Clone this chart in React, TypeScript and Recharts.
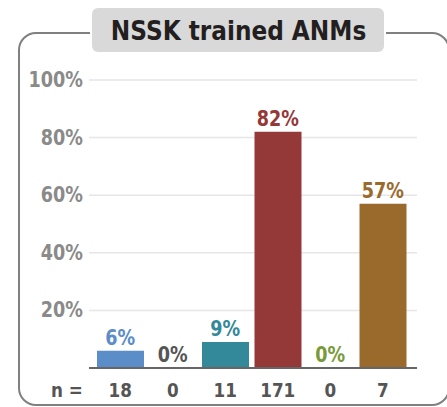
import React from "react";
import { ComposedChart, Bar, Line, XAxis, YAxis, CartesianGrid, Cell, LabelList } from "recharts";

const categories = ["A", "B", "C", "D", "E", "F"];
const values = [6, 0, 9, 82, 0, 57];
const counts = [18, 0, 11, 171, 0, 7];
const barColors = ["#5b8dc9", "#555555", "#338899", "#943838", "#7a9a3a", "#9a6a2c"];
const yTicks = [20, 40, 60, 80, 100];

const FONT = "'DejaVu Sans', 'Liberation Sans', sans-serif";

const data = categories.map((c, i) => ({ name: c, value: values[i], n: counts[i] }));

// narrow text, squeezed horizontally around its anchor
function NarrowText({ x, y, anchor, size, fill, children }: any) {
  return (
    <g transform={`translate(${x} ${y}) scale(0.84 1)`}>
      <text x={0} y={0} textAnchor={anchor} fill={fill} fontSize={size} fontWeight={700} fontFamily={FONT}>
        {children}
      </text>
    </g>
  );
}

function YTick(props: any) {
  const { x, y, payload } = props;
  return (
    <NarrowText x={x} y={y + 7} anchor="end" size={21} fill="#8a8a8a">
      {payload.value}%
    </NarrowText>
  );
}

function NTick(props: any) {
  const { x, y, index } = props;
  return (
    <NarrowText x={x} y={y + 21} anchor="middle" size={20} fill="#555555">
      {counts[index]}
    </NarrowText>
  );
}

function ValueLabel(props: any) {
  const { x, y, index } = props;
  return (
    <NarrowText x={x} y={y - 6} anchor="middle" size={21} fill={barColors[index]}>
      {values[index]}%
    </NarrowText>
  );
}

export default function App() {
  return (
    <div style={{ position: "absolute", top: 0, left: 0, width: 447, height: 407, overflow: "hidden", background: "#fff", fontFamily: FONT }}>
      <div
        style={{
          position: "absolute",
          left: 18,
          top: 32,
          width: 428,
          height: 370,
          border: "2.5px solid #808080",
          borderRadius: 18,
        }}
      />
      <div
        style={{
          position: "absolute",
          left: 92,
          top: 8,
          width: 292,
          height: 44,
          background: "#d9d9d9",
          borderRadius: 6,
          boxShadow: "0 0 0 2px #fff",
          display: "flex",
          alignItems: "center",
          justifyContent: "center",
        }}
      >
        <span style={{ display: "inline-block", transform: "scaleX(0.86)", fontSize: 27, fontWeight: 700, color: "#231f20", whiteSpace: "nowrap" }}>
          NSSK trained ANMs
        </span>
      </div>
      <div style={{ position: "absolute", top: 0, left: 0 }}>
        <ComposedChart width={447} height={407} data={data} margin={{ top: 80, right: 30, bottom: 0, left: 0 }} barCategoryGap={3}>
          <CartesianGrid vertical={false} stroke="#e6e6e6" strokeWidth={1.5} />
          <YAxis
            domain={[0, 100]}
            ticks={yTicks}
            width={89}
            axisLine={false}
            tickLine={false}
            tickMargin={0}
            tick={<YTick />}
          />
          <XAxis
            dataKey="name"
            height={39}
            padding={{ left: 5, right: 8 }}
            axisLine={{ stroke: "#666666", strokeWidth: 2 }}
            tickLine={false}
            tick={<NTick />}
          />
          <Bar dataKey="value" isAnimationActive={false}>
            {data.map((d, i) => (
              <Cell key={d.name} fill={barColors[i]} />
            ))}
          </Bar>
          <Line dataKey="value" stroke="none" dot={false} activeDot={false} isAnimationActive={false}>
            <LabelList dataKey="value" content={<ValueLabel />} />
          </Line>
        </ComposedChart>
      </div>
      <svg style={{ position: "absolute", left: 0, top: 0 }} width={100} height={407}>
        <NarrowText x={67} y={397} anchor="middle" size={20} fill="#555555">
          n =
        </NarrowText>
      </svg>
    </div>
  );
}
